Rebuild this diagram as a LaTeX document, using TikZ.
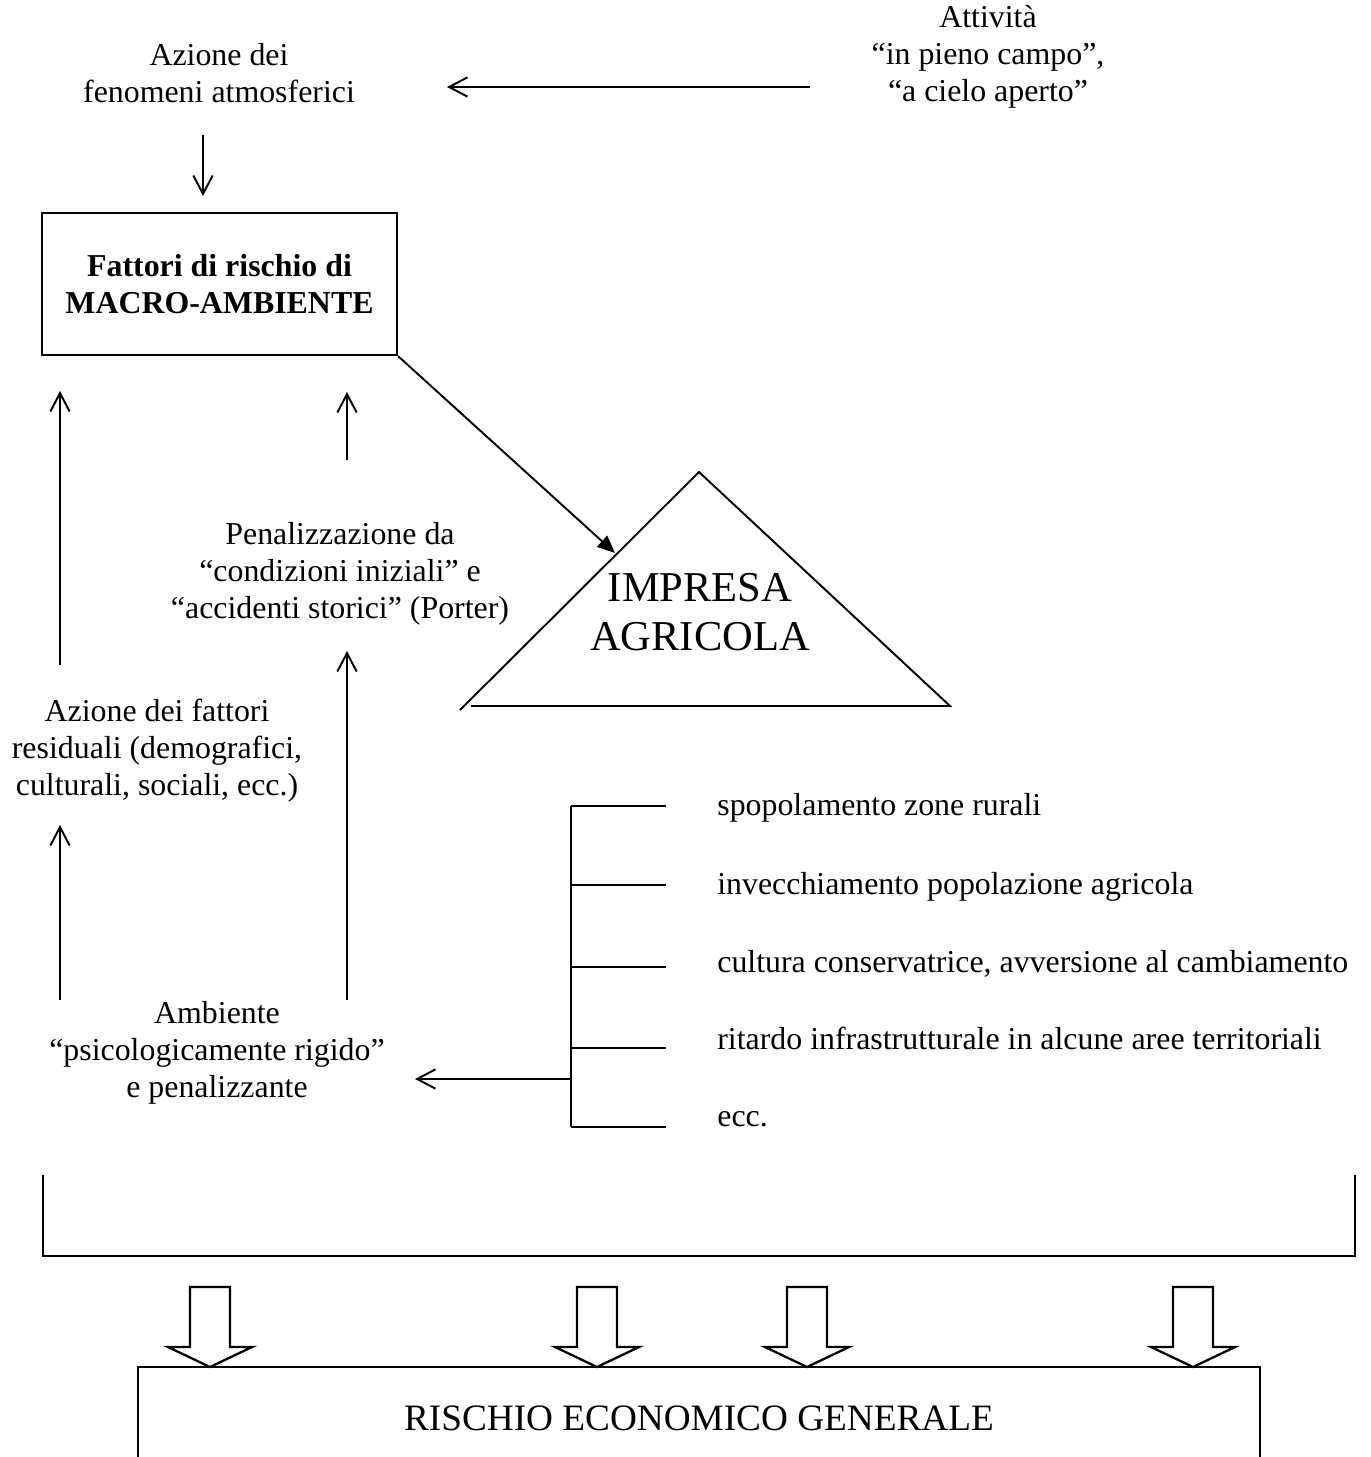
\documentclass[tikz,border=0pt]{standalone}
\usepackage{fontspec}
\setmainfont{Liberation Serif}
\usetikzlibrary{arrows.meta}
\begin{document}
\begin{tikzpicture}[x=0.02cm,y=-0.02cm,
  txt/.style={font=\fontsize{18.14}{21}\selectfont, align=center, inner sep=0pt},
  bigtxt/.style={font=\fontsize{24.2}{27.8}\selectfont, align=center, inner sep=0pt},
  medtxt/.style={font=\fontsize{21.2}{24}\selectfont, align=center, inner sep=0pt},
  listtxt/.style={font=\fontsize{18.14}{21}\selectfont, anchor=base west, inner sep=0pt},
  ln/.style={line width=1.1pt},
  thick line/.style={line width=1.4pt},
  arr/.style={ln, -{Straight Barb[length=10.5pt,width=11pt,line width=1.1pt]}},
  tri/.style={ln, -{Triangle[length=10pt,width=8.5pt]}},
  macrobox/.style={draw, line width=1.4pt, minimum width=7.1cm, minimum height=2.84cm, align=center, inner sep=0pt,
    font=\fontsize{18.14}{21}\selectfont\bfseries},
  blockarrow/.style={draw, line width=1.3pt, fill=white, line join=miter}
]
\useasboundingbox (0,0) rectangle (1370,1457);

% top texts
\node[txt] (atmo) at (219,73) {Azione dei\\fenomeni atmosferici};
\node[txt] (attiv) at (988,57) {Attività\\“in pieno campo”,\\“a cielo aperto”};
\coordinate (hA) at (810,87);
\coordinate (hB) at (447,87);
\draw[arr] (hA) -- (hB);

\coordinate (dA) at (203,135);
\coordinate (dB) at (203,196);
\draw[arr] (dA) -- (dB);

% macro box
\node[macrobox] (macro) at (219.5,284) {Fattori di rischio di\\MACRO-AMBIENTE};

% triangle
\coordinate (tL) at (460,710);
\coordinate (tTop) at (699,472);
\coordinate (tR) at (950,706);
\coordinate (tB) at (471,706);
\draw[ln, line join=miter] (tL) -- (tTop) -- (tR) -- (tB);
\node[bigtxt] (impresa) at (700,612) {IMPRESA\\AGRICOLA};
\coordinate (imptip) at (615,553);
\draw[tri] (macro.south east) -- (imptip);

% middle texts
\node[txt] (penal) at (340,574) {Penalizzazione da\\“condizioni iniziali” e\\“accidenti storici” (Porter)};
\node[txt] (resid) at (157,751) {Azione dei fattori\\residuali (demografici,\\culturali, sociali, ecc.)};
\node[txt] (amb) at (217,1053) {Ambiente\\“psicologicamente rigido”\\e penalizzante};

% vertical arrows
\coordinate (u1a) at (60,665);  \coordinate (u1b) at (60,391);
\coordinate (u2a) at (60,1000); \coordinate (u2b) at (60,825);
\coordinate (u3a) at (347,460); \coordinate (u3b) at (347,392);
\coordinate (u4a) at (347,1000); \coordinate (u4b) at (347,651);
\draw[arr] (u1a) -- (u1b);
\draw[arr] (u2a) -- (u2b);
\draw[arr] (u3a) -- (u3b);
\draw[arr] (u4a) -- (u4b);

% bracket list
\coordinate (bT) at (571,806);
\coordinate (bB) at (571,1127);
\draw[ln] (bT) -- (bB);
\foreach \yy in {806,885,967,1048,1127} {
  \draw[ln] (571,\yy) -- (666,\yy);
}
\coordinate (bArr) at (571,1079);
\coordinate (bTip) at (415,1079);
\draw[arr] (bArr) -- (bTip);

\node[listtxt] (l1) at (717,815) {spopolamento zone rurali};
\node[listtxt] (l2) at (717,894) {invecchiamento popolazione agricola};
\node[listtxt] (l3) at (717,972) {cultura conservatrice, avversione al cambiamento};
\node[listtxt] (l4) at (717,1049) {ritardo infrastrutturale in alcune aree territoriali};
\node[listtxt] (l5) at (717,1126) {ecc.};

% big bracket
\coordinate (gL) at (43,1175);
\coordinate (gR) at (1355,1175);
\draw[thick line, line join=miter] (gL) -- (43,1256) -- (1355,1256) -- (gR);

% block arrows
\foreach \cx in {210,597,807,1193} {
  \draw[blockarrow] (\cx-20,1287) -- (\cx+20,1287) -- (\cx+20,1347) -- (\cx+42,1347)
    -- (\cx,1367) -- (\cx-42,1347) -- (\cx-20,1347) -- cycle;
}

% bottom box
\coordinate (rL) at (138,1460);
\coordinate (rR) at (1260,1460);
\draw[thick line, line join=miter] (rL) -- (138,1367) -- (1260,1367) -- (rR);
\node[medtxt] (risk) at (699,1418) {RISCHIO ECONOMICO GENERALE};
\end{tikzpicture}
\end{document}
